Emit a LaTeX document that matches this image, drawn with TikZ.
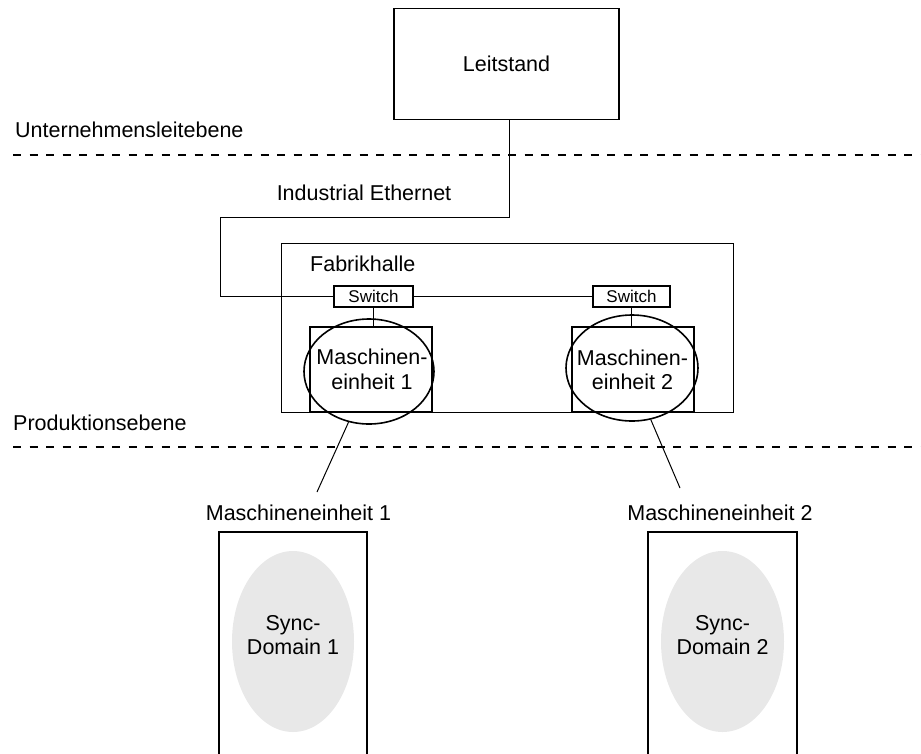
\documentclass[tikz,border=0pt]{standalone}
\usepackage{fontspec}
\setmainfont{Liberation Sans}
\usetikzlibrary{shapes.geometric}
\definecolor{syncgray}{HTML}{E8E8E8}
\begin{document}
\begin{tikzpicture}[x=1pt,y=-1pt,
  txt/.style={font=\fontsize{21.5}{24.5}\selectfont, inner sep=0pt, align=center},
  smalltxt/.style={font=\fontsize{17}{20}\selectfont, inner sep=0pt},
  thickbox/.style={draw, line width=1.8pt, inner sep=0pt},
  thinbox/.style={draw, line width=1pt, inner sep=0pt},
  switchbox/.style={draw, line width=1.4pt, inner sep=0pt, smalltxt},
  ringshape/.style={ellipse, draw, line width=1.6pt, inner sep=0pt},
  syncshape/.style={ellipse, fill=syncgray, inner sep=0pt},
  wire/.style={line width=1pt},
  levelline/.style={line width=1.5pt, dash pattern=on 8pt off 8.5pt}
]
\useasboundingbox (0,0) rectangle (921,753);

% level lines
\coordinate (l1a) at (13,155);
\coordinate (l1b) at (921,155);
\coordinate (l2a) at (13,447);
\coordinate (l2b) at (921,447);
\draw[levelline] (l1a) -- (l1b);
\draw[levelline] (l2a) -- (l2b);

\node[txt, anchor=west] (unt) at (15,130) {Unternehmensleitebene};
\node[txt, anchor=west] (prod) at (13,423) {Produktionsebene};
\node[txt] (ie) at (364,193) {Industrial Ethernet};

% Leitstand
\node[thickbox, txt, minimum width=225pt, minimum height=111pt] (leit) at (506.5,64) {Leitstand};

% Fabrikhalle
\node[thinbox, minimum width=452pt, minimum height=169pt] (fab) at (507,327.5) {};
\node[txt, anchor=west] (fabl) at (310,264) {Fabrikhalle};

% switches
\node[switchbox, minimum width=79pt, minimum height=21pt] (sw1) at (373.5,296.5) {Switch};
\node[switchbox, minimum width=77pt, minimum height=21pt] (sw2) at (631.5,296.5) {Switch};

% machine units in hall
\node[thickbox, minimum width=122pt, minimum height=85pt] (m1) at (371,369.5) {};
\node[thickbox, minimum width=122pt, minimum height=85pt] (m2) at (633,369.5) {};
\node[ringshape, minimum width=130pt, minimum height=105pt] (e1) at (369,371.5) {};
\node[ringshape, minimum width=132pt, minimum height=106pt] (e2) at (632,368) {};
\node[txt] (t1) at (372,369.5) {Maschinen-\\einheit 1};
\node[txt] (t2) at (632.5,370) {Maschinen-\\einheit 2};

% Ethernet wiring
\coordinate (c1) at (509,217);
\coordinate (c2) at (220,217);
\draw[wire] (leit.south -| c1) -- (c1) -- (c2) |- (sw1.west);
\draw[wire] (sw1.east) -- (sw2.west);
\draw[wire] (sw1.south) -- (sw1.south |- m1.north);
\draw[wire] (sw2.south) -- (sw2.south |- m2.north);

% detail views
\node[txt] (lab1) at (298.5,513) {Maschineneinheit 1};
\node[txt] (lab2) at (720,513) {Maschineneinheit 2};
\coordinate (d1) at (317,492);
\coordinate (d2) at (680,488);
\draw[wire] (e1.248) -- (d1);
\draw[wire] (e2.290) -- (d2);

\node[thickbox, minimum width=148pt, minimum height=238pt] (b1) at (293,651) {};
\node[thickbox, minimum width=149pt, minimum height=238pt] (b2) at (722.5,651) {};
\node[syncshape, minimum width=122pt, minimum height=181pt] (g1) at (293,641.5) {};
\node[syncshape, minimum width=123pt, minimum height=181pt] (g2) at (722.5,641.5) {};
\node[txt] (s1) at (293,635) {Sync-\\Domain 1};
\node[txt] (s2) at (722.5,635) {Sync-\\Domain 2};
\end{tikzpicture}
\end{document}
